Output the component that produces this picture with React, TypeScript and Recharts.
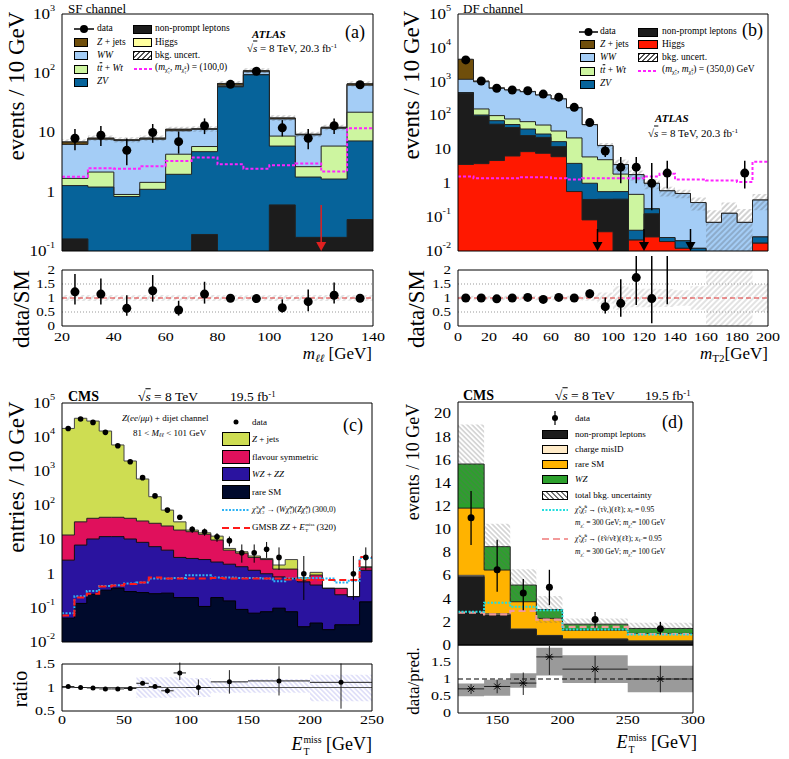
import React from "react";
import {
  ComposedChart,
  Area,
  Line,
  Scatter,
  XAxis,
  YAxis,
  ErrorBar,
  ReferenceLine,
} from "recharts";

const SERIF = '"Liberation Serif", "DejaVu Serif", "Times New Roman", serif';

// ─── (a) ATLAS SF channel, m_ll ──────────────────────────────────────────────
const A_EDGES = [20, 30, 40, 50, 60, 70, 80, 90, 100, 110, 120, 130, 140];
const A_NONPROMPT = [0.16, 0, 0, 0, 0, 0.19, 0, 0, 0.6, 0.17, 0.17, 0.34];
const A_ZV = [1.11, 1.2, 0.83, 1.1, 1.97, 4.56, 59, 94, 5.3, 1.6, 1.47, 6.86];
const A_TTBAR = [0.41, 0.95, 0.07, 0.34, 2.33, 1.05, 1, 1, 2.8, 0.88, 4.26, 14.8];
const A_WW = [4.62, 5.55, 6.4, 6.26, 6.4, 5.5, 3, 11, 8.2, 6.45, 5.9, 41];
const A_ZJETS = [0.6, 0.3, 0.2, 0.3, 0.6, 0.2, 4, 4, 0.6, 0.2, 0.4, 3];
const A_HIGGS = [0.03, 0.03, 0.03, 0.04, 0.05, 0.05, 0.3, 0.4, 0.1, 0.04, 0.05, 0.3];
const A_UNC = [0.75, 0.85, 0.75, 0.85, 1.15, 1.25, 6.5, 10.5, 1.9, 1.0, 1.3, 6.8];
const A_SIGNAL = [1.8, 2.5, 2.45, 2.7, 3.3, 3.8, 2.9, 2.45, 2.8, 3.0, 2.2, 11.8];
const A_DATA = [8, 9, 5, 10, 7, 13, 65, 108, 12, 8, 13, 64];
const A_DATA_LO = [3.0, 3.1, 2.2, 3.3, 2.6, 3.6, 8, 10, 3.4, 2.8, 3.6, 8];
const A_DATA_HI = [3.5, 3.9, 2.9, 3.9, 3.4, 4.3, 8, 10, 4.2, 3.5, 4.3, 8];
const A_RATIO = [1.22, 1.14, 0.63, 1.26, 0.57, 1.14, 0.99, 0.98, 0.65, 0.87, 1.1, 0.99];
const A_RATIO_LO = [0.45, 0.37, 0.26, 0.39, 0.2, 0.34, 0.12, 0.1, 0.17, 0.34, 0.3, 0.12];
const A_RATIO_HI = [0.64, 0.56, 0.47, 0.56, 0.33, 0.44, 0.12, 0.1, 0.3, 0.43, 0.45, 0.12];
const A_ARROW_X = [120];
const A_ARROW_TOP = [0.6];
const A_XTICKS = [20, 40, 60, 80, 100, 120, 140];
const A_YTICKS = [0.1, 1, 10, 100, 1000];
const A_YLABELS = ["10^-1", "1", "10", "10^2", "10^3"];

// ─── (b) ATLAS DF channel, m_T2 ──────────────────────────────────────────────
const B_EDGES = [0, 10, 20, 30, 40, 50, 60, 70, 80, 90, 100, 110, 120, 130, 140, 150, 160, 170, 180, 190, 200];
const B_HIGGS = [3.6, 3.8, 4.7, 6.4, 8.6, 7.7, 6.1, 0.57, 0.083, 0.037, 0, 0.021, 0.026, 0.019, 0.012, 0.004, 0, 0, 0, 0.017];
const B_NONPROMPT = [450, 93, 51, 38, 17, 15, 6, 0, 0.25, 0.3, 0.34, 0, 0.1, 0, 0, 0, 0, 0, 0, 0];
const B_ZV = [16, 7, 15, 10, 14.5, 5.8, 4.9, 3.3, 0.67, 0.23, 0.23, 0.02, 0.05, 0.006, 0.008, 0.008, 0.005, 0.005, 0.005, 0.009];
const B_TTBAR = [10, 53, 29, 25, 26, 24, 18, 18, 5, 4.4, 1.3, 0.43, 0, 0, 0, 0, 0, 0, 0, 0];
const B_WW = [700, 843, 540, 491, 444, 352, 275, 149, 48, 8, 1.7, 1.33, 0.82, 0.575, 0.48, 0.258, 0.065, 0.125, 0.065, 0.294];
const B_ZJETS = [3400, 50, 20, 0, 0, 0, 0, 0, 0, 0, 0, 0, 0, 0, 0, 0, 0, 0, 0, 0];
const B_UNC_REL = [0.08, 0.08, 0.08, 0.08, 0.08, 0.08, 0.08, 0.08, 0.1, 0.2, 0.42, 0.33, 0.33, 0.32, 0.28, 0.42, 1.3, 1.1, 1.5, 0.5];
const B_SIGNAL = [1.6, 1.4, 1.4, 1.4, 1.5, 1.5, 1.4, 1.3, 1.4, 1.4, 1.4, 1.4, 1.6, 1.9, 1.3, 1.3, 1.2, 1.2, 1.1, 4.3];
const B_DATA = [4400, 1050, 640, 570, 540, 430, 350, 175, 62, 9, 3, 3, 1, 2, 0, 0, 0, 0, 2, 0];
const B_DATA_LO = [66, 32, 25, 24, 23, 21, 19, 13, 8, 3, 2, 2, 0.84, 1.3, 0, 0, 0, 0, 1.3, 0];
const B_DATA_HI = [66, 32, 25, 24, 23, 21, 19, 13, 8, 4, 3, 3, 3, 2.6, 0, 0, 0, 0, 2.6, 0];
const B_ZERO_X = [90, 120, 150];
const B_RATIO = [1.0, 1.0, 0.97, 1.0, 1.02, 0.95, 1.02, 1.0, 1.15, 0.69, 0.81, 1.73, 0.98, 3.3];
const B_RATIO_LO = [0.02, 0.03, 0.04, 0.04, 0.04, 0.05, 0.06, 0.07, 0.15, 0.24, 0.48, 0.98, 0.88, 2.52];
const B_RATIO_HI = [0.02, 0.03, 0.04, 0.04, 0.04, 0.05, 0.06, 0.07, 0.15, 0.33, 0.86, 1.0, 2.0, 2.0];
const B_XTICKS = [0, 20, 40, 60, 80, 100, 120, 140, 160, 180, 200];
const LOG7_TICKS = [0.01, 0.1, 1, 10, 100, 1000, 10000, 100000];
const LOG7_LABELS = ["10^-2", "10^-1", "1", "10", "10^2", "10^3", "10^4", "10^5"];
const RATIO_TICKS = [0, 0.5, 1, 1.5, 2];
const RATIO_LABELS = ["0", "0.5", "1", "1.5", "2"];

// ─── (c) CMS Z + dijet, E_T^miss ─────────────────────────────────────────────
const C_EDGES = [0, 10, 20, 30, 40, 50, 60, 70, 80, 90, 100, 110, 120, 130, 140, 150, 160, 170, 180, 190, 200, 210, 220, 230, 240, 250];
const C_RARE = [0.05, 0.135, 0.25, 0.33, 0.38, 0.3, 0.28, 0.26, 0.27, 0.2, 0.2, 0.11, 0.2, 0.16, 0.09, 0.07, 0.077, 0.098, 0.077, 0.028, 0.036, 0.023, 0.032, 0.032, 0.15];
const C_VV = [2.45, 6.77, 10.15, 11.87, 11.82, 10.1, 8.02, 5.94, 4.63, 2.8, 2.6, 2.49, 2.0, 1.74, 1.51, 1.19, 0.92, 0.71, 0.65, 0.55, 0.43, 0.35, 0.21, 0.18, 1.11];
const C_FLAVSYM = [11.1, 26.1, 31.6, 32.8, 32.8, 31.6, 26.7, 23.8, 20.1, 16, 14.2, 11.7, 7.5, 3.0, 2.4, 1.74, 1.6, 0.56, 0.64, 0.07, 0.45, 0, 0.13, 0, 0.24];
const C_ZJETS = [17990, 35670, 29560, 15060, 5860, 1960, 560, 150, 48, 14, 2, 1.5, 2.9, 0.6, 0.4, 0.3, 0.2, 0.43, 1.23, 0.11, 0.18, 0, 0, 0, 0.1];
const C_DATA = [18000, 34000, 27000, 13800, 5600, 1900, 650, 190, 73, 45, 20, 17, 12, 9.3, 4.1, 4.1, 5.2, 3.0, 0, 1.0, 0, 0, 0, 1.0, 3.0];
const C_DATA_LO = [134, 184, 164, 117, 75, 44, 25, 14, 8.5, 6.7, 4.4, 4.1, 3.4, 3.0, 2.0, 2.0, 2.3, 1.7, 0, 0.83, 0, 0, 0, 0.83, 1.7];
const C_DATA_HI = [134, 184, 164, 117, 75, 44, 25, 14, 8.5, 6.7, 4.4, 4.1, 3.4, 3.0, 3.1, 3.1, 3.3, 2.9, 0, 2.3, 0, 0, 0, 2.3, 2.9];
const C_CHARGINO = [0.069, 0.22, 0.31, 0.44, 0.46, 0.52, 0.55, 0.72, 0.72, 0.75, 0.9, 0.9, 0.78, 0.78, 0.75, 0.75, 0.72, 0.6, 0.72, 0.75, 0.75, 0.72, 0.55, 0.62, 2.9];
const C_GMSB = [0.06, 0.2, 0.26, 0.42, 0.45, 0.5, 0.55, 0.78, 0.72, 0.72, 0.72, 0.72, 0.75, 0.72, 0.72, 0.72, 0.72, 0.72, 0.68, 0.66, 0.66, 0.66, 0.66, 0.66, 3.1];
const C_R_EDGES = [0, 10, 20, 30, 40, 50, 60, 70, 80, 90, 100, 120, 150, 200, 250];
const C_RATIO = [1.02, 1.0, 0.99, 0.97, 0.97, 0.98, 1.09, 1.02, 0.93, 1.31, 1.0, 1.12, 1.14, 1.11];
const C_RATIO_LO = [0.01, 0.01, 0.01, 0.01, 0.01, 0.02, 0.03, 0.03, 0.06, 0.15, 0.16, 0.25, 0.31, 0.56];
const C_RATIO_HI = [0.01, 0.01, 0.01, 0.01, 0.02, 0.02, 0.03, 0.04, 0.07, 0.22, 0.17, 0.25, 0.31, 0.4];
const C_BAND_LO = [0.98, 0.99, 0.99, 0.99, 0.99, 0.99, 0.78, 0.78, 0.78, 0.78, 0.8, 0.89, 0.89, 0.71];
const C_BAND_HI = [1.02, 1.01, 1.01, 1.01, 1.01, 1.01, 1.22, 1.22, 1.22, 1.22, 1.2, 1.14, 1.18, 1.27];
const C_XTICKS = [0, 50, 100, 150, 200, 250];
const C_RTICKS = [0.5, 1, 1.5];
const C_RLABELS = ["0.5", "1", "1.5"];

// ─── (d) CMS same-sign, E_T^miss ─────────────────────────────────────────────
const D_EDGES = [120, 140, 160, 180, 200, 250, 300];
const D_NONPROMPT = [5.9, 2.6, 1.34, 0.79, 0.5, 0.33];
const D_MISID = [0.12, 0.1, 0.05, 0.04, 0.02, 0.02];
const D_RARE = [5.81, 3.78, 2.35, 1.47, 0.76, 0.65];
const D_WZ = [3.81, 2.02, 1.44, 0.77, 0.52, 0.43];
const D_UNC = [3.41, 1.97, 1.36, 1.16, 0.5, 0.49];
const D_DATA = [11, 6.5, 4.5, 5.0, 2.2, 1.4];
const D_DATA_LO = [2.35, 1.9, 1.5, 1.55, 0.7, 0.5];
const D_DATA_HI = [2.3, 2.6, 1.2, 1.5, 0.65, 0.6];
const D_STAU = [2.87, 3.65, 3.3, 3.0, 1.34, 0.9];
const D_SLEP = [2.8, 2.64, 2.95, 2.2, 1.57, 0.94];
const D_RATIO = [0.71, 0.78, 0.88, 1.65, 1.29, 1.0];
const D_RATIO_LO = [0.15, 0.2, 0.35, 0.53, 0.41, 0.39];
const D_RATIO_HI = [0.14, 0.2, 0.31, 0.32, 0.39, 0.39];
const D_RBAND_LO = [0.49, 0.51, 0.74, 1.1, 0.88, 0.61];
const D_RBAND_HI = [0.87, 0.98, 1.17, 1.92, 1.7, 1.39];
const D_XTICKS = [150, 200, 250, 300];
const D_YTICKS = [0, 2, 4, 6, 8, 10, 12, 14, 16, 18, 20];
const D_YLABELS = ["0", "2", "4", "6", "8", "10", "12", "14", "16", "18", "20"];
const D_RTICKS = [0, 0.5, 1, 1.5];
const D_RLABELS = ["0", "0.5", "1", "1.5"];

// ─── Colours ─────────────────────────────────────────────────────────────────
const COL = {
  zj: "#6f4e0b",
  ww: "#a4cdf6",
  tt: "#cdf5a0",
  zv: "#06639a",
  np: "#1c1c1c",
  hgA: "#ffff9e",
  hgB: "#ff1800",
  sig: "#ff22ff",
  cZj: "#cedd52",
  cFs: "#e0105c",
  cVv: "#2a139f",
  cRare: "#000a2c",
  cyan: "#2db3f5",
  red: "#ff1a1a",
  dMis: "#ffebc8",
  dRare: "#ffb300",
  dWz: "#2ca02c",
  dCyan: "#22dede",
  dPink: "#f39a9a",
};

// ─── Helpers ─────────────────────────────────────────────────────────────────
function stack(layers: number[][]): number[][] {
  const out: number[][] = [];
  let run = layers[0].map(() => 0);
  layers.forEach((l) => {
    run = run.map((v, i) => v + l[i]);
    out.push(run);
  });
  return out;
}

// zero bins go far below a log axis and get clipped
const pos = (v: number) => (v > 0 ? v : 1e-6);

function histRows(edges: number[], cols: Record<string, unknown[]>) {
  return edges.map((x, i) => {
    const j = Math.min(i, edges.length - 2);
    const row: Record<string, unknown> = { x };
    Object.keys(cols).forEach((k) => {
      row[k] = cols[k][j];
    });
    return row;
  });
}

function binPoints(edges: number[], vals: number[], lo: number[], hi: number[]) {
  return vals
    .map((y, i) => ({
      x: (edges[i] + edges[i + 1]) / 2,
      y,
      err: [lo[i], hi[i]],
      xerr: (edges[i + 1] - edges[i]) / 2,
    }))
    .filter((p) => p.y > 0);
}

function range(a: number, b: number, s: number) {
  const out: number[] = [];
  for (let k = 0; a + k * s <= b + 1e-9; k++) out.push(+(a + k * s).toFixed(6));
  return out;
}

function logMinor(lo: number, hi: number) {
  const out: number[] = [];
  for (let d = lo; d < hi * 0.999; d *= 10)
    for (let k = 2; k < 10; k++) out.push(+(d * k).toPrecision(6));
  return out;
}

const hatch = (id: string, color: string, angle: number, gap = 4, w = 0.8) => (
  <pattern id={id} patternUnits="userSpaceOnUse" width={gap} height={gap} patternTransform={`rotate(${angle})`}>
    <line x1={gap / 2} y1={0} x2={gap / 2} y2={gap} stroke={color} strokeWidth={w} />
  </pattern>
);

const dot = (r: number) => (s: any) => <circle cx={s.cx} cy={s.cy} r={r} fill="#000" />;
const star = (s: any) => (
  <g stroke="#000" strokeWidth={1}>
    <line x1={s.cx - 3} y1={s.cy - 3} x2={s.cx + 3} y2={s.cy + 3} />
    <line x1={s.cx - 3} y1={s.cy + 3} x2={s.cx + 3} y2={s.cy - 3} />
    <line x1={s.cx - 4} y1={s.cy} x2={s.cx + 4} y2={s.cy} />
  </g>
);
const downTri = (color: string, stem: number) => (s: any) => (
  <g>
    {stem > 0 && <line x1={s.cx} y1={s.cy - stem} x2={s.cx} y2={s.cy - 8} stroke={color} strokeWidth={1.5} />}
    <path d={`M${s.cx - 5},${s.cy - 9} L${s.cx + 5},${s.cy - 9} L${s.cx},${s.cy} Z`} fill={color} />
  </g>
);

// tick labels are drawn slightly squat, as in the reference
const SQUASH = 0.8;

function yTick(ticks: number[], labels: string[], size: number) {
  return (t: any) => {
    const i = ticks.findIndex((v) => Math.abs(v - t.payload.value) <= Math.abs(v) * 1e-6 + 1e-12);
    const [base, sup] = (labels[i] ?? "").split("^");
    return (
      <text
        transform={`translate(${t.x + 1},${t.y}) scale(1,${SQUASH})`}
        x={0}
        y={0}
        textAnchor="end"
        dominantBaseline="central"
        style={{ fontFamily: SERIF, fontSize: size }}
        fill="#000"
      >
        {base}
        {sup !== undefined && (
          <tspan dy={-size * 0.4} style={{ fontSize: size * 0.6 }}>
            {sup}
          </tspan>
        )}
      </text>
    );
  };
}

function xTick(size: number, dy: number) {
  return (t: any) => (
    <text
      transform={`translate(${t.x},${t.y + dy}) scale(1,${SQUASH})`}
      x={0}
      y={0}
      textAnchor="middle"
      dominantBaseline="central"
      style={{ fontFamily: SERIF, fontSize: size }}
      fill="#000"
    >
      {String(t.payload.value)}
    </text>
  );
}

// inward ticks on all four sides, ROOT style
function frameAxes(
  xd: [number, number],
  yd: [number, number],
  log: boolean,
  xMaj: number[],
  xMin: number[],
  yMaj: number[],
  yMin: number[],
  big: number,
  small: number
) {
  const scale = log ? "log" : "linear";
  const common = { type: "number" as const, allowDataOverflow: true, tick: false, interval: 0, stroke: "#000", mirror: true };
  return [
    <XAxis key="fxb" xAxisId="fxb" orientation="bottom" domain={xd} ticks={xMaj} tickSize={big} {...common} />,
    <XAxis key="fxbm" xAxisId="fxbm" orientation="bottom" domain={xd} ticks={xMin} tickSize={small} axisLine={false} {...common} />,
    <XAxis key="fxt" xAxisId="fxt" orientation="top" domain={xd} ticks={xMaj} tickSize={big} {...common} />,
    <XAxis key="fxtm" xAxisId="fxtm" orientation="top" domain={xd} ticks={xMin} tickSize={small} axisLine={false} {...common} />,
    <YAxis key="fyl" yAxisId="fyl" orientation="left" scale={scale} domain={yd} ticks={yMaj} tickSize={big} {...common} />,
    <YAxis key="fylm" yAxisId="fylm" orientation="left" scale={scale} domain={yd} ticks={yMin} tickSize={small} axisLine={false} {...common} />,
    <YAxis key="fyr" yAxisId="fyr" orientation="right" scale={scale} domain={yd} ticks={yMaj} tickSize={big} {...common} />,
    <YAxis key="fyrm" yAxisId="fyrm" orientation="right" scale={scale} domain={yd} ticks={yMin} tickSize={small} axisLine={false} {...common} />,
  ];
}

interface PanelProps {
  left: number;
  top: number;
  w: number;
  h: number;
  xd: [number, number];
  yd: [number, number];
  log?: boolean;
  rows: Record<string, unknown>[];
  xTicks: number[];
  xMinor: number[];
  yTicks: number[];
  yLabels: string[];
  yMinor: number[];
  yFont?: number;
  xLabelDy?: number;
  big?: number;
  small?: number;
  defs?: React.ReactNode;
  children?: React.ReactNode;
}

function Panel(p: PanelProps) {
  const yw = 50;
  const mt = 14;
  const mr = 14;
  const showX = p.xLabelDy !== undefined;
  const xh = 30;
  const mb = showX ? 0 : 12;
  const width = yw + p.w + mr;
  const height = mt + p.h + (showX ? xh : mb);
  return (
    <div style={{ position: "absolute", left: p.left - yw, top: p.top - mt }}>
      <ComposedChart width={width} height={height} data={p.rows} margin={{ top: mt, right: mr, bottom: mb, left: 0 }}>
        <defs>{p.defs}</defs>
        <XAxis
          xAxisId={0}
          dataKey="x"
          type="number"
          domain={p.xd}
          allowDataOverflow
          hide={!showX}
          height={xh}
          ticks={p.xTicks}
          interval={0}
          tickLine={false}
          axisLine={false}
          tick={showX ? xTick(16, p.xLabelDy as number) : false}
        />
        <YAxis
          yAxisId={0}
          type="number"
          scale={p.log ? "log" : "linear"}
          domain={p.yd}
          allowDataOverflow
          width={yw}
          ticks={p.yTicks}
          interval={0}
          tickLine={false}
          axisLine={false}
          tick={yTick(p.yTicks, p.yLabels, p.yFont ?? 17)}
        />
        {p.children}
        {frameAxes(p.xd, p.yd, !!p.log, p.xTicks, p.xMinor, p.yTicks, p.yMinor, p.big ?? 9, p.small ?? 5)}
      </ComposedChart>
    </div>
  );
}

const stepArea = (key: string, fill: string, stroke: string, base: number) => (
  <Area
    key={key}
    type="stepAfter"
    dataKey={key}
    fill={fill}
    fillOpacity={1}
    stroke={stroke}
    strokeWidth={1}
    baseValue={base}
    isAnimationActive={false}
  />
);

// ─── Derived tables ──────────────────────────────────────────────────────────
const aCum = stack([A_NONPROMPT, A_ZV, A_TTBAR, A_WW, A_ZJETS, A_HIGGS]);
const aTot = aCum[5];
const aRows = histRows(A_EDGES, {
  np: aCum[0].map(pos),
  zv: aCum[1].map(pos),
  tt: aCum[2].map(pos),
  ww: aCum[3].map(pos),
  zj: aCum[4].map(pos),
  hg: aCum[5].map(pos),
  band: aTot.map((t, i) => [pos(t - A_UNC[i]), t + A_UNC[i]]),
  sig: A_SIGNAL,
});
const aPts = binPoints(A_EDGES, A_DATA, A_DATA_LO, A_DATA_HI);
const aArrow = A_ARROW_X.map((x) => ({ x, y: 0.1 }));
const aRRows = histRows(A_EDGES, { band: aTot.map((t, i) => [1 - A_UNC[i] / t, 1 + A_UNC[i] / t]) });
const aRPts = binPoints(A_EDGES, A_RATIO, A_RATIO_LO, A_RATIO_HI);

const bCum = stack([B_HIGGS, B_NONPROMPT, B_ZV, B_TTBAR, B_WW, B_ZJETS]);
const bTot = bCum[5];
const bRows = histRows(B_EDGES, {
  hg: bCum[0].map(pos),
  np: bCum[1].map(pos),
  zv: bCum[2].map(pos),
  tt: bCum[3].map(pos),
  ww: bCum[4].map(pos),
  zj: bCum[5].map(pos),
  band: bTot.map((t, i) => [pos(t * (1 - B_UNC_REL[i])), t * (1 + B_UNC_REL[i])]),
  sig: B_SIGNAL,
});
const bPts = binPoints(B_EDGES, B_DATA, B_DATA_LO, B_DATA_HI);
const bZero = B_ZERO_X.map((x) => ({ x, y: 0.01 }));
const bRRows = histRows(B_EDGES, { band: B_UNC_REL.map((r) => [1 - r, 1 + r]) });
const bRPts = binPoints(B_EDGES, B_RATIO, B_RATIO_LO, B_RATIO_HI);

const cCum = stack([C_RARE, C_VV, C_FLAVSYM, C_ZJETS]);
const cRows = histRows(C_EDGES, {
  rare: cCum[0].map(pos),
  vv: cCum[1].map(pos),
  fs: cCum[2].map(pos),
  zj: cCum[3].map(pos),
  s1: C_CHARGINO,
  s2: C_GMSB,
});
const cPts = binPoints(C_EDGES, C_DATA, C_DATA_LO, C_DATA_HI);
const cRRows = histRows(C_R_EDGES, { band: C_BAND_LO.map((l, i) => [l, C_BAND_HI[i]]) });
const cRPts = binPoints(C_R_EDGES, C_RATIO, C_RATIO_LO, C_RATIO_HI);

const dCum = stack([D_NONPROMPT, D_MISID, D_RARE, D_WZ]);
const dTot = dCum[3];
const dRows = histRows(D_EDGES, {
  np: dCum[0],
  mis: dCum[1],
  rare: dCum[2],
  wz: dCum[3],
  band: dTot.map((t, i) => [t - D_UNC[i], t + D_UNC[i]]),
  s1: D_STAU,
  s2: D_SLEP,
});
const dPts = binPoints(D_EDGES, D_DATA, D_DATA_LO, D_DATA_HI);
const dRRows = histRows(D_EDGES, { band: D_RBAND_LO.map((l, i) => [l, D_RBAND_HI[i]]) });
const dRPts = binPoints(D_EDGES, D_RATIO, D_RATIO_LO, D_RATIO_HI);

// ─── Text overlay pieces ─────────────────────────────────────────────────────
function Txt({ x, y, s, style, children }: { x: number; y: number; s: number; style?: React.CSSProperties; children: React.ReactNode }) {
  return (
    <div style={{ position: "absolute", left: x, top: y, transform: "translateY(-50%)", fontSize: s, lineHeight: 1, whiteSpace: "nowrap", ...style }}>
      {children}
    </div>
  );
}

function XTitle({ x, y, s, children }: { x: number; y: number; s: number; children: React.ReactNode }) {
  return (
    <div style={{ position: "absolute", left: x, top: y, transform: "translate(-100%, -50%)", fontSize: s, lineHeight: 1, whiteSpace: "nowrap" }}>
      {children}
    </div>
  );
}

function VTitle({ x, y, s, children }: { x: number; y: number; s: number; children: React.ReactNode }) {
  return (
    <div style={{ position: "absolute", left: x, top: y, transform: "translate(-50%, -50%) rotate(-90deg)", fontSize: s, lineHeight: 1, whiteSpace: "nowrap" }}>
      {children}
    </div>
  );
}

const Sub = ({ children }: { children: React.ReactNode }) => (
  <span style={{ fontSize: "0.65em", verticalAlign: "-0.3em", lineHeight: 0 }}>{children}</span>
);
const Sup = ({ children }: { children: React.ReactNode }) => (
  <span style={{ fontSize: "0.65em", verticalAlign: "0.5em", lineHeight: 0 }}>{children}</span>
);
const SS = ({ sup, sub }: { sup: React.ReactNode; sub: React.ReactNode }) => (
  <span style={{ display: "inline-flex", flexDirection: "column", fontSize: "0.55em", lineHeight: 1.2, verticalAlign: "middle", marginLeft: "0.08em" }}>
    <span>{sup}</span>
    <span>{sub}</span>
  </span>
);
const Chi = ({ sup, sub }: { sup: string; sub: string }) => (
  <>
    <i>{"\u03C7\u0303"}</i>
    <SS sup={sup} sub={sub} />
  </>
);
const Sqrt = () => (
  <>
    √<span style={{ textDecoration: "overline" }}><i>s</i></span>
  </>
);

function Leg({
  x,
  tx,
  y,
  w,
  h = 9,
  sym,
  color = "#000",
  dash,
  size = 9.5,
  angle = "135deg",
  children,
}: {
  x: number;
  tx: number;
  y: number;
  w: number;
  h?: number;
  sym: "box" | "hatch" | "line" | "data" | "dot" | "bar";
  color?: string;
  dash?: string;
  size?: number;
  angle?: string;
  children: React.ReactNode;
}) {
  let symbol: React.ReactNode = null;
  const boxStyle: React.CSSProperties = {
    position: "absolute",
    left: x,
    top: y - h / 2,
    width: w,
    height: h,
    border: "1px solid #000",
    boxSizing: "border-box",
  };
  if (sym === "box") symbol = <div style={{ ...boxStyle, background: color }} />;
  if (sym === "hatch")
    symbol = (
      <div style={{ ...boxStyle, background: `repeating-linear-gradient(${angle}, ${color} 0 1px, #fff 1px 3.5px)` }} />
    );
  if (sym === "line" || sym === "data" || sym === "dot" || sym === "bar")
    symbol = (
      <svg style={{ position: "absolute", left: x, top: y - 7 }} width={w} height={14}>
        {sym === "line" && <line x1={0} y1={7} x2={w} y2={7} stroke={color} strokeWidth={2} strokeDasharray={dash} />}
        {sym === "data" && (
          <>
            <line x1={0} y1={7} x2={w} y2={7} stroke="#000" strokeWidth={1.5} />
            <circle cx={w / 2} cy={7} r={4} fill="#000" />
          </>
        )}
        {sym === "dot" && <circle cx={w / 2} cy={7} r={2.5} fill="#000" />}
        {sym === "bar" && (
          <>
            <line x1={w / 2} y1={0} x2={w / 2} y2={14} stroke="#000" strokeWidth={1.2} />
            <circle cx={w / 2} cy={7} r={3} fill="#000" />
          </>
        )}
      </svg>
    );
  return (
    <>
      {symbol}
      <Txt x={tx} y={y} s={size}>
        {children}
      </Txt>
    </>
  );
}

// ─── Chart ───────────────────────────────────────────────────────────────────
export default function App() {
  const aRowsY = [29.3, 42.7, 55.9, 69.1, 82.3];
  const bRowsY = [32, 44.5, 57.7, 71, 84.3];
  const cRowsY = [421.7, 439, 456.7, 474.3, 492.3, 510, 527.7];
  const dRowsY = [418.3, 434.3, 449, 464.3, 479.3, 495, 510, 524.3, 539, 553.3];

  return (
    <div
      style={{
        position: "absolute",
        left: 0,
        top: 0,
        width: 789,
        height: 759,
        background: "#fff",
        fontFamily: SERIF,
        color: "#000",
        overflow: "hidden",
      }}
    >
      {/* ── (a) main ── */}
      <Panel
        left={62}
        top={14}
        w={311}
        h={237}
        xd={[20, 140]}
        yd={[0.1, 1000]}
        log
        rows={aRows}
        xTicks={A_XTICKS}
        xMinor={range(20, 140, 5)}
        yTicks={A_YTICKS}
        yLabels={A_YLABELS}
        yMinor={logMinor(0.1, 1000)}
        defs={hatch("hA", "#444", 45)}
      >
        {stepArea("hg", COL.hgA, "#222", 0.1)}
        {stepArea("zj", COL.zj, "#222", 0.1)}
        {stepArea("ww", COL.ww, "#222", 0.1)}
        {stepArea("tt", COL.tt, "#222", 0.1)}
        {stepArea("zv", COL.zv, "#222", 0.1)}
        {stepArea("np", COL.np, "#222", 0.1)}
        <Area type="stepAfter" dataKey="band" fill="url(#hA)" stroke="none" isAnimationActive={false} />
        <Line type="stepAfter" dataKey="sig" stroke={COL.sig} strokeWidth={2} strokeDasharray="3 2" dot={false} isAnimationActive={false} />
        <ReferenceLine segment={[{ x: A_ARROW_X[0], y: A_ARROW_TOP[0] }, { x: A_ARROW_X[0], y: 0.13 }]} stroke="#e02020" strokeWidth={1.5} />
        <Scatter data={aArrow} dataKey="y" shape={downTri("#e02020", 0)} isAnimationActive={false} />
        <Scatter data={aPts} dataKey="y" shape={dot(4.5)} isAnimationActive={false}>
          <ErrorBar dataKey="err" direction="y" width={0} stroke="#000" strokeWidth={1.5} />
        </Scatter>
      </Panel>

      {/* ── (a) ratio ── */}
      <Panel
        left={62}
        top={270}
        w={311}
        h={56}
        xd={[20, 140]}
        yd={[0, 2]}
        rows={aRRows}
        xTicks={A_XTICKS}
        xMinor={range(20, 140, 5)}
        yTicks={RATIO_TICKS}
        yLabels={RATIO_LABELS}
        yMinor={range(0, 2, 0.1)}
        yFont={15}
        xLabelDy={3}
        big={6}
        small={3}
        defs={hatch("hAr", "#888", 45)}
      >
        <Area type="stepAfter" dataKey="band" fill="url(#hAr)" stroke="none" isAnimationActive={false} />
        <ReferenceLine y={0.5} stroke="#999" strokeDasharray="1 2" />
        <ReferenceLine y={1.5} stroke="#999" strokeDasharray="1 2" />
        <ReferenceLine y={1} stroke="#e03030" strokeDasharray="5 3" strokeWidth={1.2} />
        <Scatter data={aRPts} dataKey="y" shape={dot(4.5)} isAnimationActive={false}>
          <ErrorBar dataKey="err" direction="y" width={0} stroke="#000" strokeWidth={1.5} />
        </Scatter>
      </Panel>

      {/* ── (b) main ── */}
      <Panel
        left={458}
        top={14}
        w={310}
        h={237}
        xd={[0, 200]}
        yd={[0.01, 100000]}
        log
        rows={bRows}
        xTicks={B_XTICKS}
        xMinor={range(0, 200, 5)}
        yTicks={LOG7_TICKS}
        yLabels={LOG7_LABELS}
        yMinor={logMinor(0.01, 100000)}
        defs={hatch("hB", "#444", 45)}
      >
        {stepArea("zj", COL.zj, "#222", 0.01)}
        {stepArea("ww", COL.ww, "#222", 0.01)}
        {stepArea("tt", COL.tt, "#222", 0.01)}
        {stepArea("zv", COL.zv, "#222", 0.01)}
        {stepArea("np", COL.np, "#222", 0.01)}
        {stepArea("hg", COL.hgB, "#222", 0.01)}
        <Area type="stepAfter" dataKey="band" fill="url(#hB)" stroke="none" isAnimationActive={false} />
        <Line type="stepAfter" dataKey="sig" stroke={COL.sig} strokeWidth={2} strokeDasharray="3 2" dot={false} isAnimationActive={false} />
        <Scatter data={bZero} dataKey="y" shape={downTri("#000", 22)} isAnimationActive={false} />
        <Scatter data={bPts} dataKey="y" shape={dot(4.5)} isAnimationActive={false}>
          <ErrorBar dataKey="err" direction="y" width={0} stroke="#000" strokeWidth={1.5} />
        </Scatter>
      </Panel>

      {/* ── (b) ratio ── */}
      <Panel
        left={458}
        top={270}
        w={310}
        h={56}
        xd={[0, 200]}
        yd={[0, 2]}
        rows={bRRows}
        xTicks={B_XTICKS}
        xMinor={range(0, 200, 5)}
        yTicks={RATIO_TICKS}
        yLabels={RATIO_LABELS}
        yMinor={range(0, 2, 0.1)}
        yFont={15}
        xLabelDy={3}
        big={6}
        small={3}
        defs={hatch("hBr", "#888", 45)}
      >
        <Area type="stepAfter" dataKey="band" fill="url(#hBr)" stroke="none" isAnimationActive={false} />
        <ReferenceLine y={0.5} stroke="#999" strokeDasharray="1 2" />
        <ReferenceLine y={1.5} stroke="#999" strokeDasharray="1 2" />
        <ReferenceLine y={1} stroke="#e03030" strokeDasharray="5 3" strokeWidth={1.2} />
        <Scatter data={bRPts} dataKey="y" shape={dot(4.5)} isAnimationActive={false}>
          <ErrorBar dataKey="err" direction="y" width={0} stroke="#000" strokeWidth={1.5} />
        </Scatter>
      </Panel>

      {/* ── (c) main ── */}
      <Panel
        left={62}
        top={403}
        w={310}
        h={239}
        xd={[0, 250]}
        yd={[0.01, 100000]}
        log
        rows={cRows}
        xTicks={C_XTICKS}
        xMinor={range(0, 250, 10)}
        yTicks={LOG7_TICKS}
        yLabels={LOG7_LABELS}
        yMinor={logMinor(0.01, 100000)}
      >
        {stepArea("zj", COL.cZj, "#444", 0.01)}
        {stepArea("fs", COL.cFs, "#222", 0.01)}
        {stepArea("vv", COL.cVv, "#111", 0.01)}
        {stepArea("rare", COL.cRare, "#000", 0.01)}
        <Line type="stepAfter" dataKey="s1" stroke={COL.cyan} strokeWidth={2} strokeDasharray="2 1.5" dot={false} isAnimationActive={false} />
        <Line type="stepAfter" dataKey="s2" stroke={COL.red} strokeWidth={2} strokeDasharray="7 4" dot={false} isAnimationActive={false} />
        <Scatter data={cPts} dataKey="y" shape={dot(2.8)} isAnimationActive={false}>
          <ErrorBar dataKey="err" direction="y" width={0} stroke="#000" strokeWidth={1} />
        </Scatter>
      </Panel>

      {/* ── (c) ratio ── */}
      <Panel
        left={62}
        top={664}
        w={310}
        h={47}
        xd={[0, 250]}
        yd={[0.5, 1.5]}
        rows={cRRows}
        xTicks={C_XTICKS}
        xMinor={range(0, 250, 10)}
        yTicks={C_RTICKS}
        yLabels={C_RLABELS}
        yMinor={range(0.5, 1.5, 0.1)}
        yFont={16}
        xLabelDy={1}
        big={6}
        small={3}
        defs={hatch("hCr", "#8f8fe6", -45, 3.5, 0.8)}
      >
        <Area type="stepAfter" dataKey="band" fill="url(#hCr)" stroke="none" isAnimationActive={false} />
        <ReferenceLine y={1} stroke="#555" strokeWidth={1} />
        <Scatter data={cRPts} dataKey="y" shape={dot(2.5)} isAnimationActive={false}>
          <ErrorBar dataKey="err" direction="y" width={0} stroke="#222" strokeWidth={1} />
          <ErrorBar dataKey="xerr" direction="x" width={0} stroke="#222" strokeWidth={1} />
        </Scatter>
      </Panel>

      {/* ── (d) main ── */}
      <Panel
        left={458}
        top={402}
        w={235}
        h={243}
        xd={[120, 300]}
        yd={[0, 21]}
        rows={dRows}
        xTicks={D_XTICKS}
        xMinor={range(120, 300, 10)}
        yTicks={D_YTICKS}
        yLabels={D_YLABELS}
        yMinor={range(0, 21, 0.5)}
        defs={hatch("hD", "#666", -45, 3.5, 0.8)}
      >
        {stepArea("wz", COL.dWz, "#222", 0)}
        {stepArea("rare", COL.dRare, "#222", 0)}
        {stepArea("mis", COL.dMis, "#444", 0)}
        {stepArea("np", COL.np, "#222", 0)}
        <Area type="stepAfter" dataKey="band" fill="url(#hD)" stroke="none" isAnimationActive={false} />
        <Line type="stepAfter" dataKey="s2" stroke={COL.dPink} strokeWidth={2.2} strokeDasharray="7 4" dot={false} isAnimationActive={false} />
        <Line type="stepAfter" dataKey="s1" stroke={COL.dCyan} strokeWidth={2} strokeDasharray="2 1.5" dot={false} isAnimationActive={false} />
        <Scatter data={dPts} dataKey="y" shape={dot(3.5)} isAnimationActive={false}>
          <ErrorBar dataKey="err" direction="y" width={0} stroke="#000" strokeWidth={1.3} />
        </Scatter>
      </Panel>

      {/* ── (d) ratio ── */}
      <Panel
        left={458}
        top={645}
        w={235}
        h={68}
        xd={[120, 300]}
        yd={[0, 2]}
        rows={dRRows}
        xTicks={D_XTICKS}
        xMinor={range(120, 300, 10)}
        yTicks={D_RTICKS}
        yLabels={D_RLABELS}
        yMinor={range(0, 2, 0.1)}
        yFont={16}
        xLabelDy={-1}
        big={6}
        small={3}
      >
        <Area type="stepAfter" dataKey="band" fill="#9a9a9a" fillOpacity={1} stroke="none" isAnimationActive={false} />
        <ReferenceLine y={1} stroke="#000" strokeDasharray="5 3" strokeWidth={1.2} />
        <Scatter data={dRPts} dataKey="y" shape={star} isAnimationActive={false}>
          <ErrorBar dataKey="err" direction="y" width={0} stroke="#222" strokeWidth={1} />
          <ErrorBar dataKey="xerr" direction="x" width={0} stroke="#222" strokeWidth={1} />
        </Scatter>
      </Panel>

      {/* ── axis titles ── */}
      <VTitle x={16} y={86} s={23}>events / 10 GeV</VTitle>
      <VTitle x={21} y={309} s={23}>data/SM</VTitle>
      <VTitle x={411} y={85} s={23}>events / 10 GeV</VTitle>
      <VTitle x={416} y={309} s={23}>data/SM</VTitle>
      <VTitle x={16} y={477} s={23}>entries / 10 GeV</VTitle>
      <VTitle x={20} y={689} s={20}>ratio</VTitle>
      <VTitle x={413} y={462} s={18}>events / 10 GeV</VTitle>
      <VTitle x={413} y={681} s={17}>data/pred.</VTitle>

      <XTitle x={372} y={353} s={17}>
        <i>m</i>
        <Sub>
          <i>ℓℓ</i>
        </Sub>{" "}
        [GeV]
      </XTitle>
      <XTitle x={768} y={353} s={17}>
        <i>m</i>
        <Sub>T2</Sub>[GeV]
      </XTitle>
      <XTitle x={372} y={746} s={18}>
        <i>E</i>
        <SS sup="miss" sub="T" /> [GeV]
      </XTitle>
      <XTitle x={697} y={744} s={18}>
        <i>E</i>
        <SS sup="miss" sub="T" /> [GeV]
      </XTitle>

      {/* ── (a) labels + legend ── */}
      <Txt x={68} y={8} s={13}>SF channel</Txt>
      <Txt x={345} y={32} s={18}>(a)</Txt>
      <Txt x={252} y={34} s={11}>
        <b>
          <i>ATLAS</i>
        </b>
      </Txt>
      <Txt x={247} y={48} s={11}>
        <Sqrt /> = 8 TeV, 20.3 fb<Sup>-1</Sup>
      </Txt>
      <Leg x={74} tx={97} y={aRowsY[0]} w={20} sym="data">data</Leg>
      <Leg x={74} tx={97} y={aRowsY[1]} w={14} sym="box" color={COL.zj}>
        <i>Z</i> + jets
      </Leg>
      <Leg x={74} tx={97} y={aRowsY[2]} w={14} sym="box" color={COL.ww}>
        <i>WW</i>
      </Leg>
      <Leg x={74} tx={97} y={aRowsY[3]} w={14} sym="box" color={COL.tt}>
        <i>t</i>
        <i style={{ textDecoration: "overline" }}>t</i> + <i>Wt</i>
      </Leg>
      <Leg x={74} tx={97} y={aRowsY[4]} w={14} sym="box" color={COL.zv}>
        <i>ZV</i>
      </Leg>
      <Leg x={133} tx={155} y={aRowsY[0]} w={19} sym="box" color={COL.np}>non-prompt leptons</Leg>
      <Leg x={133} tx={155} y={aRowsY[1]} w={19} sym="box" color={COL.hgA}>Higgs</Leg>
      <Leg x={133} tx={155} y={aRowsY[2]} w={19} sym="hatch" color="#555">bkg. uncert.</Leg>
      <Leg x={134} tx={155} y={aRowsY[3]} w={18} sym="line" color={COL.sig} dash="3 2">
        (<i>m</i>
        <Sub>
          {"\u03C7\u0303"}
          <SS sup="±" sub="1" />
        </Sub>
        , <i>m</i>
        <Sub>
          {"\u03C7\u0303"}
          <SS sup="0" sub="1" />
        </Sub>
        ) = (100,0)
      </Leg>

      {/* ── (b) labels + legend ── */}
      <Txt x={463} y={8} s={13}>DF channel</Txt>
      <Txt x={742} y={30} s={18}>(b)</Txt>
      <Txt x={655} y={118} s={11}>
        <b>
          <i>ATLAS</i>
        </b>
      </Txt>
      <Txt x={648} y={133} s={11}>
        <Sqrt /> = 8 TeV, 20.3 fb<Sup>-1</Sup>
      </Txt>
      <Leg x={579} tx={600} y={bRowsY[0]} w={19} sym="data">data</Leg>
      <Leg x={580} tx={600} y={bRowsY[1]} w={15} sym="box" color={COL.zj}>
        <i>Z</i> + jets
      </Leg>
      <Leg x={580} tx={600} y={bRowsY[2]} w={15} sym="box" color={COL.ww}>
        <i>WW</i>
      </Leg>
      <Leg x={580} tx={600} y={bRowsY[3]} w={15} sym="box" color={COL.tt}>
        <i>t</i>
        <i style={{ textDecoration: "overline" }}>t</i> + <i>Wt</i>
      </Leg>
      <Leg x={580} tx={600} y={bRowsY[4]} w={15} sym="box" color={COL.zv}>
        <i>ZV</i>
      </Leg>
      <Leg x={638} tx={662} y={bRowsY[0]} w={20} sym="box" color={COL.np}>non-prompt leptons</Leg>
      <Leg x={638} tx={662} y={bRowsY[1]} w={20} sym="box" color={COL.hgB}>Higgs</Leg>
      <Leg x={638} tx={662} y={bRowsY[2]} w={20} sym="hatch" color="#555">bkg. uncert.</Leg>
      <Leg x={638} tx={662} y={bRowsY[3]} w={20} sym="line" color={COL.sig} dash="3 2">
        (<i>m</i>
        <Sub>
          {"\u03C7\u0303"}
          <SS sup="±" sub="1" />
        </Sub>
        , <i>m</i>
        <Sub>
          {"\u03C7\u0303"}
          <SS sup="0" sub="1" />
        </Sub>
        ) = (350,0) GeV
      </Leg>

      {/* ── (c) labels + legend ── */}
      <Txt x={68} y={397} s={14}>
        <b>CMS</b>
      </Txt>
      <Txt x={138} y={397} s={13.5}>
        <Sqrt /> = 8 TeV
      </Txt>
      <Txt x={230} y={397} s={13.5}>
        19.5 fb<Sup>-1</Sup>
      </Txt>
      <Txt x={343} y={425} s={18}>(c)</Txt>
      <Txt x={122} y={418} s={9}>
        <i>Z</i>(<i>ee</i>/<i>μμ</i>) + dijet channel
      </Txt>
      <Txt x={133} y={433} s={9}>
        81 &lt; <i>M</i>
        <Sub>
          <i>ℓℓ</i>
        </Sub>{" "}
        &lt; 101 GeV
      </Txt>
      <Leg x={222} tx={252} y={cRowsY[0]} w={28} sym="dot" size={9}>data</Leg>
      <Leg x={222} tx={252} y={cRowsY[1]} w={28} h={14} sym="box" color={COL.cZj} size={9}>
        <i>Z</i> + jets
      </Leg>
      <Leg x={222} tx={252} y={cRowsY[2]} w={28} h={14} sym="box" color={COL.cFs} size={9}>flavour symmetric</Leg>
      <Leg x={222} tx={252} y={cRowsY[3]} w={28} h={14} sym="box" color={COL.cVv} size={9}>
        <i>WZ</i> + <i>ZZ</i>
      </Leg>
      <Leg x={222} tx={252} y={cRowsY[4]} w={28} h={14} sym="box" color={COL.cRare} size={9}>rare SM</Leg>
      <Leg x={222} tx={252} y={cRowsY[5]} w={28} sym="line" color={COL.cyan} dash="2 1.5" size={8}>
        <Chi sup="±" sub="1" />
        <Chi sup="0" sub="2" /> → (<i>W</i>
        <Chi sup="0" sub="1" />
        )(<i>Z</i>
        <Chi sup="0" sub="1" />) (300,0)
      </Leg>
      <Leg x={222} tx={252} y={cRowsY[6]} w={28} sym="line" color={COL.red} dash="7 4" size={9}>
        GMSB <i>ZZ</i> + <i>E</i>
        <SS sup="miss" sub="T" /> (320)
      </Leg>

      {/* ── (d) labels + legend ── */}
      <Txt x={463} y={396} s={14}>
        <b>CMS</b>
      </Txt>
      <Txt x={555} y={396} s={13.5}>
        <Sqrt /> = 8 TeV
      </Txt>
      <Txt x={645} y={396} s={13.5}>
        19.5 fb<Sup>-1</Sup>
      </Txt>
      <Txt x={662} y={422} s={18}>(d)</Txt>
      <Leg x={542} tx={575} y={dRowsY[0]} w={26} sym="bar" size={9}>data</Leg>
      <Leg x={542} tx={575} y={dRowsY[1]} w={26} sym="box" color={COL.np} size={9}>non-prompt leptons</Leg>
      <Leg x={542} tx={575} y={dRowsY[2]} w={26} sym="box" color={COL.dMis} size={9}>charge misID</Leg>
      <Leg x={542} tx={575} y={dRowsY[3]} w={26} sym="box" color={COL.dRare} size={9}>rare SM</Leg>
      <Leg x={542} tx={575} y={dRowsY[4]} w={26} sym="box" color={COL.dWz} size={9}>
        <i>WZ</i>
      </Leg>
      <Leg x={542} tx={575} y={dRowsY[5]} w={26} sym="hatch" color="#777" angle="45deg" size={9}>total bkg. uncertainty</Leg>
      <Leg x={542} tx={575} y={dRowsY[6]} w={26} sym="line" color={COL.dCyan} dash="2 1.5" size={7.5}>
        <Chi sup="±" sub="1" />
        <Chi sup="0" sub="2" /> → ({"\u03C4\u0303"}ν<Sub>τ</Sub>)({"ℓ\u0303"}ℓ); <i>x</i>
        <Sub>{"ℓ\u0303"}</Sub> = 0.95
      </Leg>
      <Txt x={575} y={dRowsY[7]} s={7.5}>
        <i>m</i>
        <Sub>
          {"\u03C7\u0303"}
          <SS sup="±" sub="1" />
        </Sub>{" "}
        = 300 GeV; <i>m</i>
        <Sub>
          {"\u03C7\u0303"}
          <SS sup="0" sub="1" />
        </Sub>
        = 100 GeV
      </Txt>
      <Leg x={542} tx={575} y={dRowsY[8]} w={26} sym="line" color={COL.dPink} dash="7 4" size={7.5}>
        <Chi sup="±" sub="1" />
        <Chi sup="0" sub="2" /> → ({"ℓ\u0303"}ν/{"\u03BD\u0303"}ℓ)({"ℓ\u0303"}ℓ); <i>x</i>
        <Sub>{"ℓ\u0303"}</Sub> = 0.95
      </Leg>
      <Txt x={575} y={dRowsY[9]} s={7.5}>
        <i>m</i>
        <Sub>
          {"\u03C7\u0303"}
          <SS sup="±" sub="1" />
        </Sub>{" "}
        = 300 GeV; <i>m</i>
        <Sub>
          {"\u03C7\u0303"}
          <SS sup="0" sub="1" />
        </Sub>
        = 100 GeV
      </Txt>
    </div>
  );
}
